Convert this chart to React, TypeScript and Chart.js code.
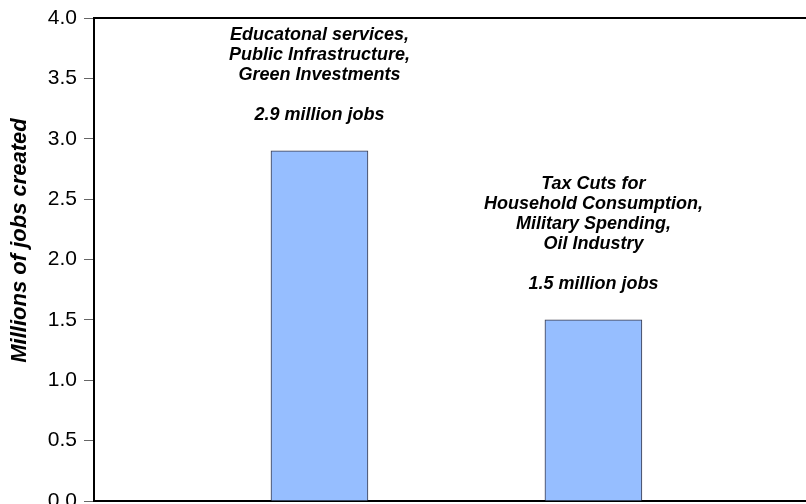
import React, { useEffect, useRef } from "react";
import { Chart, registerables } from "chart.js";

Chart.register(...registerables);

const categoryLines: string[][] = [
  ["Educatonal services,", "Public Infrastructure,", "Green Investments"],
  ["Tax Cuts for", "Household Consumption,", "Military Spending,", "Oil Industry"],
];
const jobValues: number[] = [2.9, 1.5];
const valueSuffix = " million jobs";
const yTickStep = 0.5;
const yMin = 0;
const yMax = 4;
const yTitle = "Millions of jobs created";

const FONT = "'Liberation Sans', Arial, Helvetica, sans-serif";

const annotationPlugin = {
  id: "barAnnotations",
  afterDatasetsDraw(chart: any) {
    const meta = chart.getDatasetMeta(0);
    const ctx = chart.ctx;
    ctx.save();
    ctx.fillStyle = "#000";
    ctx.font = `italic bold 18px ${FONT}`;
    ctx.textAlign = "center";
    ctx.textBaseline = "middle";
    meta.data.forEach((bar: any, i: number) => {
      const x = bar.x;
      const valueY = bar.y - 36;
      ctx.fillText(`${jobValues[i].toFixed(1)}${valueSuffix}`, x, valueY);
      const lines = categoryLines[i];
      lines.forEach((line, j) => {
        const y = valueY - 40 - (lines.length - 1 - j) * 20;
        ctx.fillText(line, x, y);
      });
    });
    // y-axis title
    const area = chart.chartArea;
    ctx.translate(20, (area.top + area.bottom) / 2 - 19);
    ctx.rotate(-Math.PI / 2);
    ctx.font = `italic bold 22px ${FONT}`;
    ctx.fillText(yTitle, 0, 0);
    ctx.restore();
  },
};

export default function App() {
  const ref = useRef<HTMLCanvasElement | null>(null);
  useEffect(() => {
    if (!ref.current) return;
    const data = jobValues.map((v, i) => ({ x: i + 1, y: v }));
    const chart = new Chart(ref.current, {
      type: "bar",
      data: {
        datasets: [
          {
            data,
            backgroundColor: "#96BEFF",
            borderColor: "#3a3a4a",
            borderWidth: 1,
            barThickness: 97,
          },
        ],
      },
      options: {
        responsive: false,
        animation: false,
        events: [],
        layout: { padding: { top: 18, bottom: 3, left: 0, right: 0 } },
        plugins: { legend: { display: false }, tooltip: { enabled: false }, title: { display: false } },
        scales: {
          x: {
            type: "linear",
            position: "bottom",
            offset: false,
            min: 0.177,
            max: 2.776,
            ticks: { display: false },
            grid: { display: false, drawTicks: false, offset: false },
            border: { display: true, color: "#000", width: 2 },
          },
          x2: {
            type: "linear",
            position: "top",
            display: true,
            offset: false,
            min: 0.177,
            max: 2.776,
            ticks: { display: false },
            grid: { display: false, drawTicks: false, offset: false },
            border: { display: true, color: "#000", width: 2 },
          },
          y: {
            type: "linear",
            min: yMin,
            max: yMax,
            ticks: {
              stepSize: yTickStep,
              color: "#000",
              padding: 7,
              font: { family: FONT, size: 21 },
              callback: (v: any) => Number(v).toFixed(1),
            },
            grid: {
              drawOnChartArea: false,
              drawTicks: true,
              tickLength: 10,
              tickColor: "#666",
              tickWidth: 1,
            },
            border: { display: true, color: "#000", width: 2 },
            title: { display: false },
            afterFit: (scale: any) => {
              scale.width = 94;
              scale.paddingTop = 0;
              scale.paddingBottom = 0;
            },
          },
        },
      },
      plugins: [annotationPlugin],
    } as any);
    return () => chart.destroy();
  }, []);
  return (
    <div style={{ position: "absolute", left: 0, top: 0, width: 806, height: 504, background: "#fff" }}>
      <canvas ref={ref} width={806} height={504} style={{ display: "block" }} />
    </div>
  );
}
